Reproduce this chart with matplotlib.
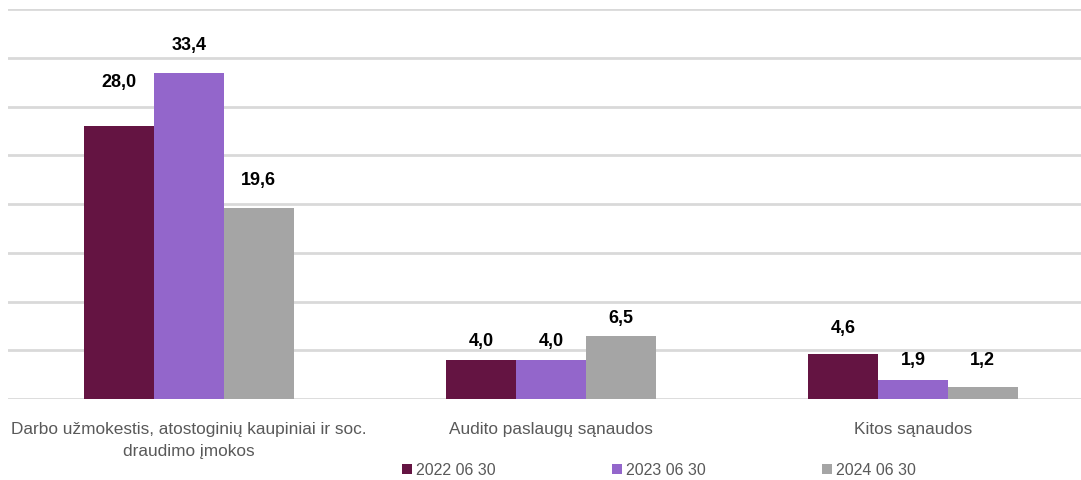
import matplotlib
matplotlib.use("Agg")
import matplotlib.pyplot as plt
import numpy as np

categories = ["Darbo užmokestis, atostoginių kaupiniai ir soc.\ndraudimo įmokos",
              "Audito paslaugų sąnaudos", "Kitos sąnaudos"]
series_names = ["2022 06 30", "2023 06 30", "2024 06 30"]
values = [
    [28.0, 4.0, 4.6],
    [33.4, 4.0, 1.9],
    [19.6, 6.5, 1.2],
]
colors = ["#641442", "#9366CB", "#A5A5A5"]
# label vertical offsets above bar top (points), per series/category
label_offsets = [
    [26, 8, 13],
    [15, 8, 9],
    [14, 7, 14],
]

FONT = ["Liberation Sans", "DejaVu Sans"]
plt.rcParams['font.family'] = FONT

fig = plt.figure(figsize=(10.81, 4.81), dpi=100)
W, H = 1081, 481
ax = fig.add_axes([8 / W, 1 - 400 / H, 1086 / W, 390 / H])

x = np.arange(len(categories))
bw = 0.193
for i, (name, vals, c) in enumerate(zip(series_names, values, colors)):
    pos = x + (i - 1) * bw
    ax.bar(pos, vals, width=bw, color=c, label=name, zorder=2)
    for p, v, off in zip(pos, vals, label_offsets[i]):
        ax.annotate(f"{v:.1f}".replace(".", ","), (p, v), xytext=(0, off),
                    textcoords="offset points", ha="center", va="bottom",
                    fontsize=13, fontweight="bold", color="black")

ax.set_xlim(-0.5, 2.5)
ax.set_ylim(0, 40)
ax.set_yticks(np.arange(0, 41, 5))
ax.yaxis.grid(True, color="#D9D9D9", linewidth=2)
ax.set_axisbelow(True)
for s in ax.spines.values():
    s.set_visible(False)
ax.tick_params(axis="y", left=False, labelleft=False)
ax.tick_params(axis="x", bottom=False, pad=12)
ax.set_xticks(x)
ax.set_xticklabels(categories, fontsize=12.4, color="#595959", linespacing=1.65)

leg = fig.legend(loc="center", bbox_to_anchor=(659 / W, 1 - 471 / H), ncol=3,
                 frameon=False, fontsize=11.5, handlelength=0.6, handleheight=0.6,
                 handletextpad=0.25, columnspacing=7.3, labelcolor="#595959")
fig.savefig("out.png", dpi=100)
